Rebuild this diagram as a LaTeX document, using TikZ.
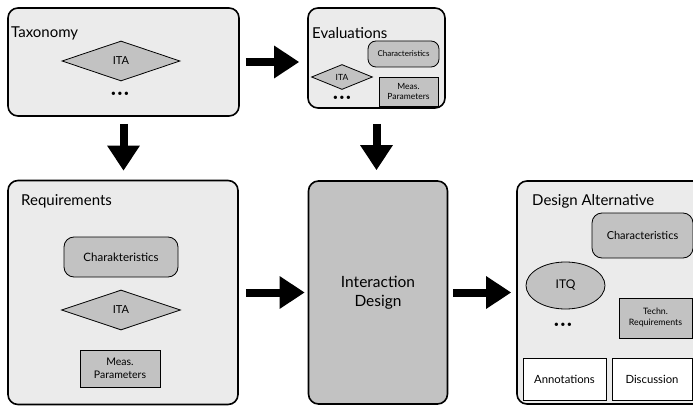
\documentclass[tikz,border=0pt]{standalone}
\usepackage{fontspec}
\setmainfont{Lato}
\usetikzlibrary{shapes.geometric,arrows.meta}
\definecolor{panelgray}{HTML}{EBEBEB}
\definecolor{itemgray}{HTML}{C2C2C2}
\newcommand{\threedots}{\textbullet\kern1.2pt\textbullet\kern1.2pt\textbullet}
\begin{document}
\begin{tikzpicture}[x=1pt,y=-1pt,
  panel/.style={draw=black, line width=1.6pt, fill=panelgray, rounded corners=10pt,
                minimum width=#1, inner sep=0pt},
  central/.style={draw=black, line width=1.6pt, fill=itemgray, rounded corners=10pt,
                inner sep=0pt, align=center, font=\fontsize{15.5}{18.5}\selectfont},
  title/.style={anchor=west, inner sep=0pt, font=\fontsize{15}{17}\selectfont},
  item/.style={draw=black, line width=0.8pt, fill=itemgray, inner sep=0pt, align=center},
  roundbox/.style={item, rounded corners=8pt},
  rhomb/.style={item, diamond},
  oval/.style={item, ellipse},
  plainbox/.style={draw=black, line width=0.8pt, fill=white, inner sep=0pt, align=center,
                font=\fontsize{11.3}{13}\selectfont},
  dots/.style={inner sep=0pt, font=\fontsize{9}{9}\selectfont},
  fat/.style={line width=8pt, -{Triangle[length=25pt,width=31pt]}}
]
\useasboundingbox (0,0) rectangle (693,406);
\clip (0,0) rectangle (693,406);

% --- panels ---
\node[panel=231pt, minimum height=108pt] (tax)  at (123.5,62) {};
\node[panel=137pt, minimum height=100pt] (eval) at (376.5,58) {};
\node[panel=230pt, minimum height=224pt] (req)  at (123,292.5) {};
\node[central, minimum width=139pt, minimum height=223pt] (idesign) at (378,292.5) {Interaction\\Design};
\node[panel=190pt, minimum height=223pt] (alt)  at (612,292.5) {};

% --- Taxonomy ---
\node[title] (taxT) at (11,33) {Taxonomy};
\node[rhomb, minimum width=118pt, minimum height=40pt, font=\fontsize{11}{12}\selectfont] (taxITA) at (121,61) {ITA};
\node[dots] (taxD) at (120,94) {\threedots};

% --- Evaluations ---
\node[title] (evalT) at (312,33) {Evaluations};
\node[roundbox, minimum width=71pt, minimum height=26pt, font=\fontsize{8}{9}\selectfont] (evChar) at (403.5,54) {Characteristics};
\node[rhomb, minimum width=61pt, minimum height=25pt, font=\fontsize{8.5}{9}\selectfont] (evITA) at (342,77) {ITA};
\node[dots] (evD) at (342,98) {\threedots};
\node[item, minimum width=59pt, minimum height=29pt, font=\fontsize{8.5}{10}\selectfont] (evMeas) at (408.5,91.5) {Meas.\\Parameters};

% --- Requirements ---
\node[title] (reqT) at (21,201) {Requirements};
\node[roundbox, rounded corners=10pt, minimum width=114pt, minimum height=40pt, font=\fontsize{11.5}{12}\selectfont] (reqChar) at (121,257) {Charakteristics};
\node[rhomb, minimum width=119pt, minimum height=40pt, font=\fontsize{11}{12}\selectfont] (reqITA) at (121,310) {ITA};
\node[item, minimum width=80pt, minimum height=37pt, font=\fontsize{10.5}{13}\selectfont] (reqMeas) at (120,368.5) {Meas.\\Parameters};

% --- Design Alternative ---
\node[title] (altT) at (532,201) {Design Alternative};
\node[roundbox, rounded corners=10pt, minimum width=101pt, minimum height=45pt, font=\fontsize{11}{12}\selectfont] (altChar) at (642.5,235.5) {Characteristics};
\node[oval, minimum width=79pt, minimum height=47pt, font=\fontsize{12}{13}\selectfont] (itq) at (565.5,285.5) {ITQ};
\node[dots] (altD) at (563,325) {\threedots};
\node[item, minimum width=73pt, minimum height=40pt, font=\fontsize{8.8}{11}\selectfont] (altTech) at (655.5,318) {Techn.\\Requirements};
\node[plainbox, minimum width=83pt, minimum height=42pt] (annot) at (564.5,379) {Annotations};
\node[plainbox, minimum width=80pt, minimum height=42pt] (disc) at (652,379) {Discussion};

% --- flow arrows ---
\draw[fat, shorten <=6pt, shorten >=8pt] (tax.east) -- (tax.east -| eval.west);
\draw[fat, shorten <=7pt, shorten >=9pt] (tax.south) -- (tax.south |- req.north);
\draw[fat, shorten <=15pt, shorten >=10pt] (eval.south) -- (eval.south |- idesign.north);
\draw[fat, shorten <=7pt, shorten >=3pt] (req.east |- idesign) -- (idesign.west);
\draw[fat, shorten <=5pt, shorten >=5pt] (idesign.east) -- (alt.west |- idesign);
\end{tikzpicture}
\end{document}
